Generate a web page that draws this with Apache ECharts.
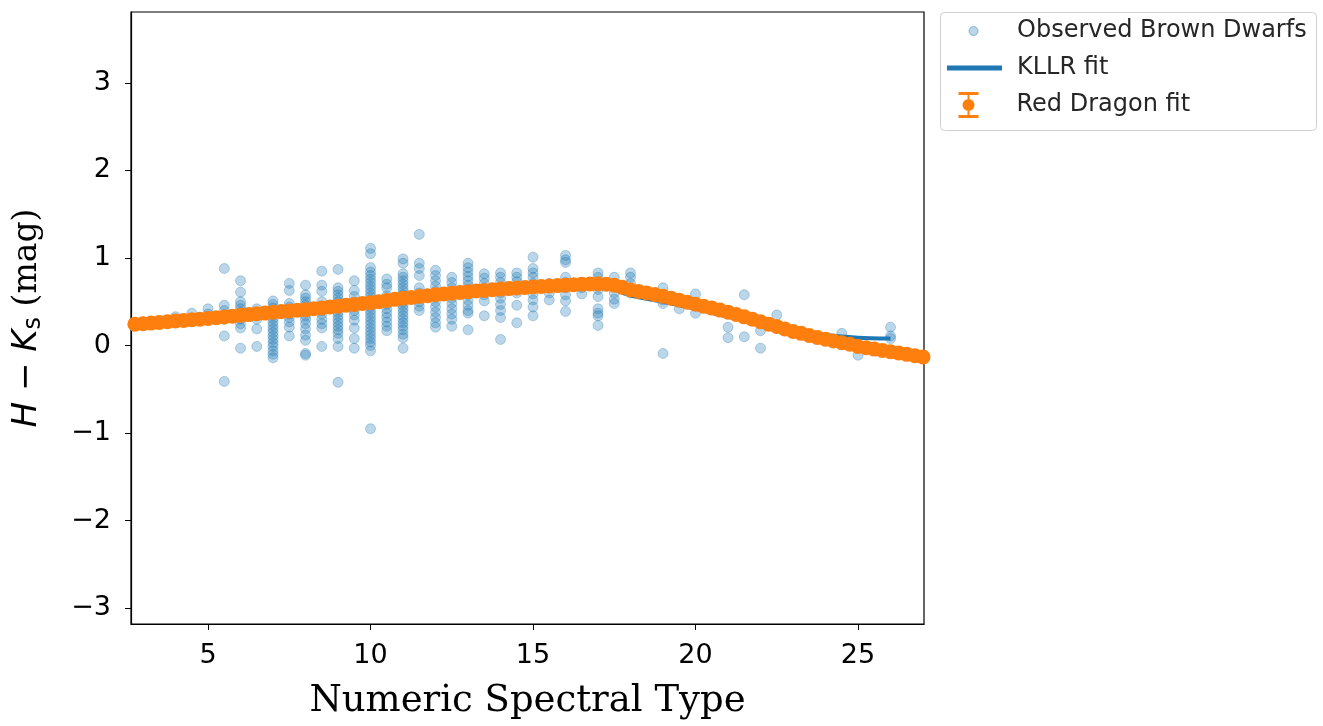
<!DOCTYPE html>
<html>
<head>
<meta charset="utf-8">
<script src="https://cdn.jsdelivr.net/npm/echarts@6/dist/echarts.min.js"></script>
<style>
html,body{margin:0;padding:0;background:#fff;}
#chart{width:1323px;height:726px;}
</style>
</head>
<body>
<div id="chart"></div>
<script>
// ---- data ----
const xTicks = [5, 10, 15, 20, 25];
const yTicks = [-3, -2, -1, 0, 1, 2, 3];

// Observed brown dwarfs: [spectral type, list of H-Ks values]
const observed = [
  [3.0, [0.25, 0.27]],
  [3.5, [0.28]],
  [4.0, [0.30, 0.33]],
  [4.5, [0.37, 0.29]],
  [5.0, [0.42, 0.33, 0.36]],
  [5.5, [0.88, 0.46, 0.40, 0.35, 0.30, 0.11, -0.41]],
  [6.0, [0.74, 0.61, 0.50, 0.46, 0.42, 0.38, 0.34, 0.30, 0.25, 0.20, -0.03]],
  [6.5, [0.42, 0.36, 0.30, 0.19, -0.01]],
  [7.0, [0.51, 0.47, 0.43, 0.39, 0.35, 0.31, 0.27, 0.23, 0.19, 0.15, 0.11, 0.07, 0.03, -0.01, -0.06, -0.10, -0.14]],
  [7.5, [0.71, 0.63, 0.48, 0.44, 0.40, 0.36, 0.32, 0.27, 0.21, 0.11]],
  [8.0, [0.69, 0.58, 0.54, 0.50, 0.46, 0.42, 0.38, 0.34, 0.30, 0.25, 0.19, 0.12, 0.06, -0.09, -0.11]],
  [8.5, [0.85, 0.69, 0.62, 0.50, 0.45, 0.40, 0.36, 0.30, 0.25, 0.20, -0.01]],
  [9.0, [0.87, 0.66, 0.62, 0.58, 0.54, 0.50, 0.46, 0.42, 0.38, 0.34, 0.30, 0.26, 0.22, 0.18, 0.14, 0.08, -0.01, -0.42]],
  [9.5, [0.74, 0.63, 0.56, 0.50, 0.45, 0.40, 0.35, 0.29, 0.20, 0.08, -0.03]],
  [10.0, [1.11, 1.05, 0.89, 0.84, 0.80, 0.76, 0.72, 0.68, 0.64, 0.60, 0.56, 0.52, 0.48, 0.44, 0.40, 0.36, 0.32, 0.28, 0.24, 0.20, 0.16, 0.12, 0.08, 0.04, 0.00, -0.06, -0.95]],
  [10.5, [0.76, 0.70, 0.66, 0.57, 0.52, 0.47, 0.42, 0.37, 0.32, 0.27, 0.22, 0.17]],
  [11.0, [0.99, 0.94, 0.82, 0.78, 0.74, 0.70, 0.66, 0.62, 0.58, 0.54, 0.50, 0.46, 0.42, 0.38, 0.34, 0.30, 0.26, 0.22, 0.18, 0.13, 0.09, -0.03]],
  [11.5, [1.27, 0.94, 0.88, 0.80, 0.66, 0.60, 0.55, 0.50, 0.45, 0.40]],
  [12.0, [0.86, 0.80, 0.74, 0.68, 0.62, 0.56, 0.50, 0.44, 0.38, 0.32, 0.26, 0.21]],
  [12.5, [0.78, 0.72, 0.66, 0.60, 0.54, 0.48, 0.42, 0.36, 0.30, 0.22]],
  [13.0, [0.94, 0.89, 0.84, 0.79, 0.74, 0.69, 0.64, 0.58, 0.52, 0.46, 0.40, 0.37, 0.18]],
  [13.5, [0.82, 0.77, 0.71, 0.65, 0.58, 0.51, 0.34]],
  [14.0, [0.83, 0.78, 0.72, 0.66, 0.60, 0.54, 0.47, 0.40, 0.32, 0.07]],
  [14.5, [0.83, 0.78, 0.73, 0.66, 0.60, 0.46, 0.26]],
  [15.0, [1.01, 0.88, 0.83, 0.78, 0.71, 0.65, 0.59, 0.52, 0.44, 0.34]],
  [15.5, [0.71, 0.66, 0.60, 0.52]],
  [16.0, [1.03, 0.98, 0.95, 0.78, 0.72, 0.66, 0.58, 0.51, 0.39]],
  [16.5, [0.66, 0.59]],
  [17.0, [0.83, 0.78, 0.70, 0.64, 0.56, 0.42, 0.37, 0.34, 0.23]],
  [17.5, [0.78, 0.70, 0.60, 0.53, 0.48]],
  [18.0, [0.83, 0.78, 0.71, 0.64, 0.60]],
  [19.0, [0.66, 0.52, 0.48, -0.09]],
  [19.5, [0.42]],
  [20.0, [0.59, 0.37]],
  [21.0, [0.21, 0.09]],
  [21.5, [0.58, 0.10]],
  [22.0, [0.26, 0.17, -0.03]],
  [22.5, [0.35]],
  [24.5, [0.14]],
  [25.0, [-0.11]],
  [26.0, [0.21, 0.11, 0.08]]
];

// KLLR fit: [spectral type, H-Ks]
const kllrFit = [
  [3, 0.25], [4, 0.28], [5, 0.31], [6, 0.345], [7, 0.38], [8, 0.41], [9, 0.45],
  [10, 0.49], [11, 0.54], [12, 0.58], [13, 0.615], [14, 0.645], [15, 0.665],
  [16, 0.68], [17, 0.675], [17.5, 0.64], [18, 0.57], [19, 0.50], [20, 0.42],
  [21, 0.33], [22, 0.255], [23, 0.175], [24, 0.12], [25, 0.09], [26, 0.08]
];

// Red Dragon fit: [spectral type, H-Ks]
const redDragon = [
  [2.75,0.245],[3.00,0.250],[3.25,0.257],[3.50,0.265],[3.75,0.272],[4.00,0.280],[4.25,0.287],[4.50,0.295],
  [4.75,0.302],[5.00,0.310],[5.25,0.318],[5.50,0.327],[5.75,0.336],[6.00,0.345],[6.25,0.354],[6.50,0.363],
  [6.75,0.371],[7.00,0.380],[7.25,0.388],[7.50,0.395],[7.75,0.403],[8.00,0.410],[8.25,0.420],[8.50,0.430],
  [8.75,0.440],[9.00,0.450],[9.25,0.460],[9.50,0.470],[9.75,0.480],[10.00,0.490],[10.25,0.502],[10.50,0.515],
  [10.75,0.528],[11.00,0.540],[11.25,0.550],[11.50,0.560],[11.75,0.570],[12.00,0.580],[12.25,0.589],[12.50,0.598],
  [12.75,0.606],[13.00,0.615],[13.25,0.623],[13.50,0.630],[13.75,0.638],[14.00,0.645],[14.25,0.651],[14.50,0.658],
  [14.75,0.664],[15.00,0.670],[15.25,0.675],[15.50,0.680],[15.75,0.685],[16.00,0.690],[16.25,0.695],[16.50,0.700],
  [16.75,0.703],[17.00,0.705],[17.25,0.700],[17.50,0.690],[17.75,0.665],[18.00,0.635],[18.25,0.618],[18.50,0.600],
  [18.75,0.582],[19.00,0.562],[19.25,0.540],[19.50,0.518],[19.75,0.495],[20.00,0.472],[20.25,0.450],[20.50,0.428],
  [20.75,0.405],[21.00,0.382],[21.25,0.355],[21.50,0.328],[21.75,0.300],[22.00,0.272],[22.25,0.245],[22.50,0.218],
  [22.75,0.190],[23.00,0.162],[23.25,0.140],[23.50,0.115],[23.75,0.093],[24.00,0.072],[24.25,0.052],[24.50,0.033],
  [24.75,0.015],[25.00,-0.010],[25.25,-0.025],[25.50,-0.040],[25.75,-0.055],[26.00,-0.070],[26.25,-0.085],[26.50,-0.100],
  [26.75,-0.115],[27.00,-0.130]
];

// ---- build ----
const obsPoints = [];
observed.forEach(function (col) {
  col[1].forEach(function (v) { obsPoints.push([col[0], v]); });
});

const BLUE = '#1f77b4';
const ORANGE = '#ff7f0e';
const tickFont = 'DejaVu Sans';

const chart = echarts.init(document.getElementById('chart'), null, {renderer: 'canvas'});

const legendText = {fontFamily: 'DejaVu Sans', fontSize: 24, color: '#262626', lineHeight: 28};

chart.setOption({
  animation: false,
  backgroundColor: '#fff',
  grid: {
    left: 131, top: 12, right: 399, bottom: 102,
    show: true, borderColor: '#000', borderWidth: 1.2, backgroundColor: 'transparent'
  },
  xAxis: {
    type: 'value', min: 2.63, max: 27.03,
    name: 'Numeric Spectral Type', nameLocation: 'middle', nameGap: 59,
    nameTextStyle: {fontFamily: 'DejaVu Serif', fontSize: 37, color: '#000'},
    axisLine: {show: true, onZero: false, lineStyle: {color: '#000', width: 1.2}},
    axisTick: {show: true, customValues: xTicks, length: 6, lineStyle: {color: '#000', width: 1}},
    axisLabel: {customValues: xTicks, margin: 18, fontFamily: tickFont, fontSize: 27, color: '#000'},
    splitLine: {show: false}
  },
  yAxis: {
    type: 'value', min: -3.18, max: 3.81,
    name: '{i|H}{n| \u2212 }{i|K}{s|s}{r| (mag)}', nameLocation: 'middle', nameGap: 85, nameRotate: 90,
    nameTextStyle: {
      color: '#000',
      rich: {
        i: {fontFamily: 'DejaVu Sans', fontStyle: 'italic', fontSize: 34, color: '#000'},
        n: {fontFamily: 'DejaVu Sans', fontSize: 34, color: '#000'},
        s: {fontFamily: 'DejaVu Sans', fontSize: 24, color: '#000', verticalAlign: 'bottom', padding: [13, 0, 0, 0]},
        r: {fontFamily: 'DejaVu Serif', fontSize: 33, color: '#000'}
      }
    },
    axisLine: {show: true, onZero: false, lineStyle: {color: '#000', width: 1.2}},
    axisTick: {show: true, customValues: yTicks, length: 6, lineStyle: {color: '#000', width: 1}},
    axisLabel: {
      customValues: yTicks, margin: 20, fontFamily: tickFont, fontSize: 27, color: '#000',
      formatter: function (v) { return v < 0 ? '\u2212' + Math.abs(v) : String(v); }
    },
    splitLine: {show: false}
  },
  legend: [
    {
      left: 968.5, top: 17, padding: 0, orient: 'vertical', selectedMode: false,
      itemWidth: 9, itemHeight: 9,
      data: [{name: 'Observed Brown Dwarfs', icon: 'circle',
              itemStyle: {color: 'rgba(31,119,180,0.3)', borderColor: 'rgba(31,119,180,0.45)', borderWidth: 1, opacity: 1}}],
      textStyle: Object.assign({padding: [0, 0, 0, 34]}, legendText)
    },
    {
      left: 947, top: 54, padding: 0, orient: 'vertical', selectedMode: false,
      itemWidth: 55, itemHeight: 5,
      data: [{name: 'KLLR fit', icon: 'rect', itemStyle: {color: BLUE}}],
      textStyle: Object.assign({padding: [0, 0, 0, 10]}, legendText)
    },
    {
      left: 958.5, top: 91, padding: 0, orient: 'vertical', selectedMode: false,
      itemWidth: 20, itemHeight: 26,
      data: [{name: 'Red Dragon fit',
              icon: 'path://M0 0H20V3H0Z M0 23H20V26H0Z M9 3H11V7H9Z M9 19H11V23H9Z M4 13A6 6 0 1 1 16 13A6 6 0 1 1 4 13Z',
              itemStyle: {color: ORANGE, opacity: 1}}],
      textStyle: Object.assign({padding: [0, 0, 0, 33]}, legendText)
    }
  ],
  graphic: [{
    type: 'rect', z: -10, silent: true,
    shape: {x: 940.5, y: 12.5, width: 376, height: 118, r: 4},
    style: {fill: '#fff', stroke: '#d0d0d0', lineWidth: 1}
  }],
  series: [
    {
      name: 'Observed Brown Dwarfs', type: 'scatter', data: obsPoints, z: 2,
      symbol: 'circle', symbolSize: 10,
      itemStyle: {color: BLUE, borderColor: BLUE, borderWidth: 1, opacity: 0.3},
      emphasis: {disabled: true}, clip: true
    },
    {
      name: 'KLLR fit', type: 'line', data: kllrFit, smooth: 0.3, z: 3,
      showSymbol: false, lineStyle: {color: BLUE, width: 4},
      itemStyle: {color: BLUE}, emphasis: {disabled: true}, clip: true
    },
    {
      name: 'Red Dragon fit', type: 'scatter', data: redDragon, z: 4,
      symbol: 'circle', symbolSize: 15,
      itemStyle: {color: ORANGE, opacity: 1},
      emphasis: {disabled: true}, clip: true
    }
  ]
});
</script>
</body>
</html>
